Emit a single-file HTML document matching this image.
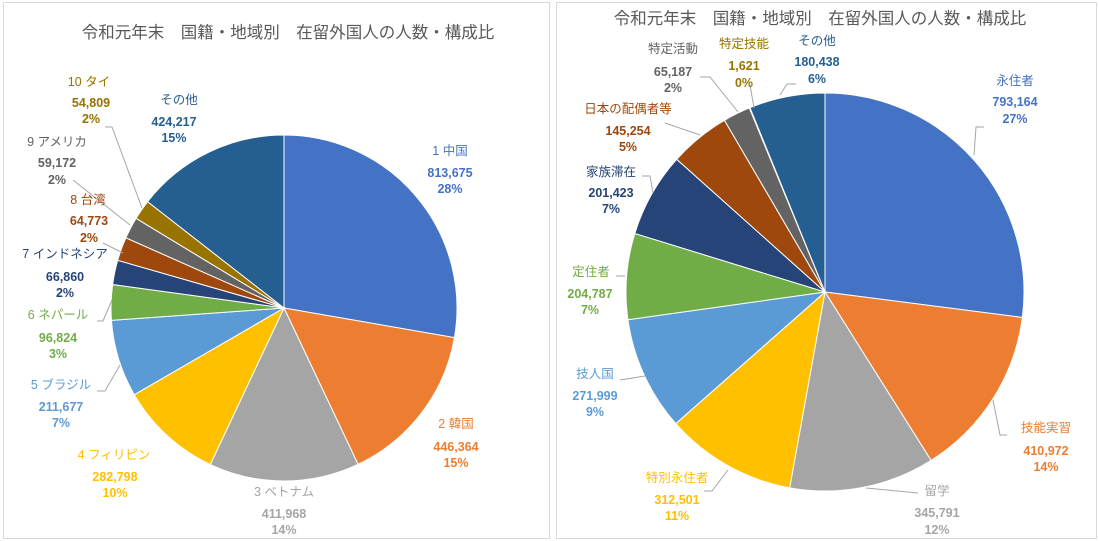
<!DOCTYPE html>
<html><head><meta charset="utf-8"><style>
body{margin:0;width:1099px;height:541px;background:#fff;overflow:hidden;font-family:"Liberation Sans","Noto Sans CJK JP",sans-serif}
svg{position:absolute;left:0;top:0}
text{font-family:"Liberation Sans","Noto Sans CJK JP",sans-serif;font-size:12.5px;font-weight:bold;text-anchor:middle}
.t{font-size:16.5px;font-weight:normal;fill:#595959}
.n{font-weight:normal}
</style></head><body>
<svg width="1099" height="541" viewBox="0 0 1099 541">
<rect x="3.5" y="2.5" width="546" height="536" fill="#fff" stroke="#d9d9d9"/>
<rect x="556.5" y="2.5" width="540" height="536" fill="#fff" stroke="#d9d9d9"/>
<g id="p1"></g><g id="p2"></g>
<text class="t" x="288" y="38">令和元年末　国籍・地域別　在留外国人の人数・構成比</text>
<text class="t" x="820" y="24">令和元年末　国籍・地域別　在留外国人の人数・構成比</text>
<g fill="none" stroke="#a6a6a6" stroke-width="1">
<polyline points="105,127 112,127 142,208"/><polyline points="73,180 130,225"/><polyline points="103,243 123,253"/>
<polyline points="97,321 103,321 112,300"/><polyline points="97,391 105,391 120,365"/>
<polyline points="984,127 976,127 974,155"/><polyline points="1007,435 1000,435 993,400"/><polyline points="918,493 866,488"/>
<polyline points="704,491 712,491 728,470"/><polyline points="620,380 645,376"/><polyline points="616,276 625,276"/>
<polyline points="642,176 650,176 653,193"/><polyline points="665,123 700,135"/><polyline points="700,77 710,77 738,112"/>
<polyline points="750,85 754,108"/><polyline points="796,84 787,84 780,95"/>
</g>
<g fill="#4472C4"><text class="n" x="450" y="155">1 中国</text><text x="450" y="177">813,675</text><text x="450" y="193">28%</text></g>
<g fill="#ED7D31"><text class="n" x="456" y="428">2 韓国</text><text x="456" y="451">446,364</text><text x="456" y="467">15%</text></g>
<g fill="#A5A5A5"><text class="n" x="284" y="496">3 ベトナム</text><text x="284" y="518">411,968</text><text x="284" y="534">14%</text></g>
<g fill="#FFC000"><text class="n" x="114" y="459">4 フィリピン</text><text x="115" y="481">282,798</text><text x="115" y="497">10%</text></g>
<g fill="#5B9BD5"><text class="n" x="61" y="389">5 ブラジル</text><text x="61" y="411">211,677</text><text x="61" y="427">7%</text></g>
<g fill="#70AD47"><text class="n" x="58" y="319">6 ネパール</text><text x="58" y="342">96,824</text><text x="58" y="358">3%</text></g>
<g fill="#264478"><text class="n" x="65" y="258">7 インドネシア</text><text x="65" y="281">66,860</text><text x="65" y="297">2%</text></g>
<g fill="#9E480E"><text class="n" x="88" y="204">8 台湾</text><text x="89" y="225">64,773</text><text x="89" y="242">2%</text></g>
<g fill="#636363"><text class="n" x="57" y="146">9 アメリカ</text><text x="57" y="167">59,172</text><text x="57" y="184">2%</text></g>
<g fill="#997300"><text class="n" x="89" y="86">10 タイ</text><text x="91" y="107">54,809</text><text x="91" y="123">2%</text></g>
<g fill="#255E91"><text class="n" x="179" y="104">その他</text><text x="174" y="126">424,217</text><text x="174" y="142">15%</text></g>

<g fill="#4472C4"><text class="n" x="1015" y="85">永住者</text><text x="1015" y="106">793,164</text><text x="1015" y="123">27%</text></g>
<g fill="#ED7D31"><text class="n" x="1046" y="432">技能実習</text><text x="1046" y="455">410,972</text><text x="1046" y="471">14%</text></g>
<g fill="#A5A5A5"><text class="n" x="937" y="495">留学</text><text x="937" y="517">345,791</text><text x="937" y="534">12%</text></g>
<g fill="#FFC000"><text class="n" x="677" y="482">特別永住者</text><text x="677" y="504">312,501</text><text x="677" y="520">11%</text></g>
<g fill="#5B9BD5"><text class="n" x="595" y="378">技人国</text><text x="595" y="400">271,999</text><text x="595" y="416">9%</text></g>
<g fill="#70AD47"><text class="n" x="591" y="276">定住者</text><text x="590" y="298">204,787</text><text x="590" y="314">7%</text></g>
<g fill="#264478"><text class="n" x="611" y="176">家族滞在</text><text x="611" y="197">201,423</text><text x="611" y="213">7%</text></g>
<g fill="#9E480E"><text class="n" x="628" y="113">日本の配偶者等</text><text x="628" y="135">145,254</text><text x="628" y="151">5%</text></g>
<g fill="#636363"><text class="n" x="673" y="53">特定活動</text><text x="673" y="76">65,187</text><text x="673" y="92">2%</text></g>
<g fill="#997300"><text class="n" x="744" y="48">特定技能</text><text x="744" y="70">1,621</text><text x="744" y="87">0%</text></g>
<g fill="#255E91"><text class="n" x="817" y="45">その他</text><text x="817" y="66">180,438</text><text x="817" y="83">6%</text></g>
</svg>
<script>
var C=["#4472C4","#ED7D31","#A5A5A5","#FFC000","#5B9BD5","#70AD47","#264478","#9E480E","#636363","#997300","#255E91"];
function pie(id,cx,cy,r,v){var s=v.reduce(function(a,b){return a+b},0),a=0,h="";
v.forEach(function(x,i){var a2=a+x/s*2*Math.PI;
var x1=cx+r*Math.sin(a),y1=cy-r*Math.cos(a),x2=cx+r*Math.sin(a2),y2=cy-r*Math.cos(a2);
h+='<path d="M'+cx+','+cy+'L'+x1+','+y1+'A'+r+','+r+' 0 '+((a2-a)>Math.PI?1:0)+' 1 '+x2+','+y2+'Z" fill="'+C[i]+'" stroke="#fff" stroke-width="1"/>';a=a2;});
document.getElementById(id).innerHTML=h;}
pie("p1",284,308,173,[813675,446364,411968,282798,211677,96824,66860,64773,59172,54809,424217]);
pie("p2",825,292,199,[793164,410972,345791,312501,271999,204787,201423,145254,65187,1621,180438]);
</script>
</body></html>
